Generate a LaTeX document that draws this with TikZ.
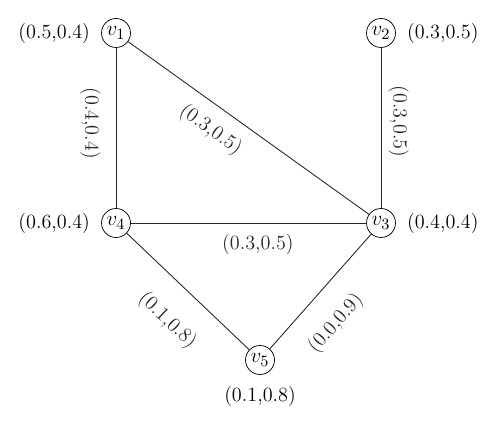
\documentclass[tikz,border=0pt]{standalone}
\begin{document}
\begin{tikzpicture}[x=0.02cm,y=-0.02cm,
  vertex/.style={draw,circle,inner sep=0pt,minimum size=0.58cm,font=\fontsize{12.5}{14}\selectfont},
  weight/.style={font=\fontsize{11.5}{14}\selectfont},
  every label/.style={font=\fontsize{11.5}{14}\selectfont},
  label distance=0.1cm,
  edge/.style={black!85,line width=0.5pt}]
\useasboundingbox (0,0) rectangle (500,422);

\node[vertex,label=left:{(0.5,0.4)}] (v1) at (116,33) {$v_1$};
\node[vertex,label=right:{(0.3,0.5)}] (v2) at (381,33) {$v_2$};
\node[vertex,label=right:{(0.4,0.4)}] (v3) at (381,223) {$v_3$};
\node[vertex,label=left:{(0.6,0.4)}] (v4) at (116,223) {$v_4$};
\node[vertex,label=below:{(0.1,0.8)}] (v5) at (260,360) {$v_5$};

\draw[edge] (v1)--node[weight,rotate=-90,below,pos=0.47,outer sep=5.5pt] {(0.4,0.4)} (v4);
\draw[edge] (v2)--node[weight,rotate=-90,above,pos=0.46,outer sep=1pt] {(0.3,0.5)} (v3);
\draw[edge] (v1)--node[weight,sloped,below,pos=0.4,outer sep=4.5pt] {(0.3,0.5)} (v3);
\draw[edge] (v4)--node[weight,below,pos=0.54,outer sep=3pt] {(0.3,0.5)} (v3);
\draw[edge] (v4)--node[weight,sloped,below,pos=0.53,outer sep=11pt] {(0.1,0.8)} (v5);
\draw[edge] (v5)--node[weight,sloped,below,pos=0.41,outer sep=9.5pt] {(0.0,0.9)} (v3);
\end{tikzpicture}
\end{document}
